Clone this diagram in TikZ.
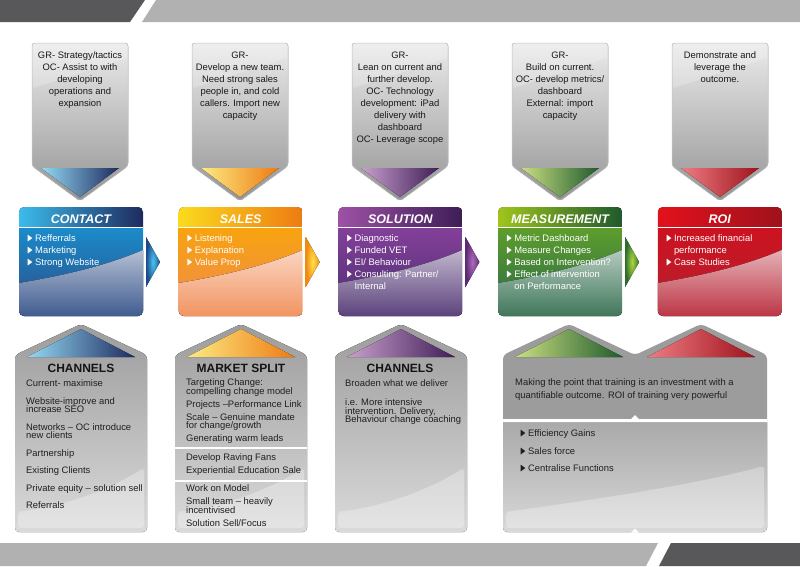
\documentclass[tikz,border=0pt]{standalone}
\usepackage{fontspec}
\setmainfont{Liberation Sans}
\usepackage{amssymb}
\usepackage{xcolor}

\definecolor{bandark}{HTML}{58585A}
\definecolor{banlight}{HTML}{B2B1B2}
\definecolor{topA}{HTML}{EAEAEA}
\definecolor{topB}{HTML}{949494}
\definecolor{lowA}{HTML}{9C9C9C}
\definecolor{lowB}{HTML}{DADADA}
\definecolor{lowC}{HTML}{A9A9A9}
\definecolor{contactHL}{HTML}{3BBCEC}
\definecolor{contactHR}{HTML}{1E2A5E}
\definecolor{contactBT}{HTML}{1B8CCB}
\definecolor{contactBB}{HTML}{2A4A84}
\definecolor{contactAI}{HTML}{48C6F2}
\definecolor{contactAO}{HTML}{1D4A8A}
\definecolor{salesHL}{HTML}{FBDA1E}
\definecolor{salesHR}{HTML}{EE7B12}
\definecolor{salesBT}{HTML}{F7A40E}
\definecolor{salesBB}{HTML}{F08850}
\definecolor{salesAI}{HTML}{FFE04A}
\definecolor{salesAO}{HTML}{F18A10}
\definecolor{solutionHL}{HTML}{9E52A6}
\definecolor{solutionHR}{HTML}{3E1D56}
\definecolor{solutionBT}{HTML}{84409A}
\definecolor{solutionBB}{HTML}{4A2E6E}
\definecolor{solutionAI}{HTML}{B06ABC}
\definecolor{solutionAO}{HTML}{5A2A72}
\definecolor{measureHL}{HTML}{9FC51C}
\definecolor{measureHR}{HTML}{1E5A2C}
\definecolor{measureBT}{HTML}{5E9E2C}
\definecolor{measureBB}{HTML}{2A6848}
\definecolor{measureAI}{HTML}{B0D840}
\definecolor{measureAO}{HTML}{2C6C2C}
\definecolor{roiHL}{HTML}{E3111C}
\definecolor{roiHR}{HTML}{9E121C}
\definecolor{roiBT}{HTML}{CC1220}
\definecolor{roiBB}{HTML}{B52030}

\newcommand{\bl}{\makebox[8pt][l]{\scalebox{.8}[1.25]{$\blacktriangleright$}}}

\begin{document}
\begin{tikzpicture}[x=1pt,y=-1pt, every node/.style={inner sep=0pt},
    topbox/.style={top color=topA, bottom color=topB, draw=black!22, line width=.5pt, rounded corners=3pt},
    lowbox/.style={top color=lowA, bottom color=lowB, rounded corners=4pt},
    toptext/.style={font=\fontsize{9.4}{12}\selectfont, text=black!90, align=center, anchor=north},
    boxtitle/.style={font=\fontsize{12.5}{14}\selectfont\bfseries\itshape, text=white, anchor=base},
    bultext/.style={font=\fontsize{9.4}{12}\selectfont, text=white, align=left, anchor=north west},
    lowtitle/.style={font=\fontsize{12}{14}\selectfont\bfseries, text=black!92, anchor=base},
    lowtext/.style={font={\fontsize{9.4}{8.5}\selectfont\lineskiplimit=-9pt}, text=black!88, align=left, anchor=north west}]
    \useasboundingbox (0,0) rectangle (800,566);
    \fill[white] (0,0) rectangle (800,566);
    % banners
    \fill[bandark] (0,0) -- (145,0) -- (130,22) -- (0,22) -- cycle;
    \fill[banlight] (156,0) -- (800,0) -- (800,22) -- (142,22) -- cycle;
    \fill[banlight] (0,543) -- (658,543) -- (646,566) -- (0,566) -- cycle;
    \fill[bandark] (671,543) -- (800,543) -- (800,566) -- (659,566) -- cycle;
    % top tags
    \foreach \i/\nm in {0/contact,1/sales,2/solution,3/measure,4/roi}{
        \pgfmathsetmacro{\cx}{80+160*\i}
        \filldraw[topbox] (\cx-48,43) -- (\cx+48,43) -- (\cx+48,166) -- (\cx,201) -- (\cx-48,166) -- cycle;
        \fill[white, fill opacity=.22] (\cx-47,44) -- (\cx+47,44) -- (\cx+47,58) -- (\cx-47,88) -- cycle;
        \fill[left color=\nm HL!55!white, right color=\nm HR] (\cx-39,168) -- (\cx+39,168) -- (\cx,197) -- cycle;
    }
    \node[toptext] (contact-top) at (80,51.5) {GR- Strategy/tactics\\OC- Assist to with\\developing\\operations and\\expansion};
    \node[toptext] (sales-top) at (240,51.5) {GR-\\Develop a new team.\\Need strong sales\\people in, and cold\\callers. Import new\\capacity};
    \node[toptext] (solution-top) at (400,51.5) {GR-\\Lean on current and\\further develop.\\OC- Technology\\development: iPad\\delivery with\\dashboard\\OC- Leverage scope};
    \node[toptext] (measure-top) at (560,51.5) {GR-\\Build on current.\\OC- develop metrics/\\dashboard\\External: import\\capacity};
    \node[toptext] (roi-top) at (720,51.5) {Demonstrate and\\leverage the\\outcome.};
    % coloured boxes
    \foreach \i/\nm/\ttl in {0/contact/CONTACT,1/sales/SALES,2/solution/SOLUTION,3/measure/MEASUREMENT,4/roi/ROI}{
        \pgfmathsetmacro{\cx}{81+159.7*\i}
        \begin{scope}
            \clip[rounded corners=5pt] (\cx-62,207) rectangle (\cx+62,316);
            \fill[top color=\nm BT, bottom color=\nm BB] (\cx-62,227) rectangle (\cx+62,316);
            \fill[top color=\nm BB!35!white, bottom color=\nm BB!90!white] (\cx-62,283) .. controls (\cx-20,276) and (\cx+25,266) .. (\cx+62,250) -- (\cx+62,316) -- (\cx-62,316) -- cycle;
            \fill[left color=\nm HL, right color=\nm HR] (\cx-62,207) rectangle (\cx+62,227);
        \end{scope}
        \draw[white, line width=.8pt] (\cx-62,227) -- (\cx+62,227);
        \node[boxtitle] (\nm-title) at (\cx,223.5) {\ttl};
    }
    \foreach \i/\nm in {0/contact,1/sales,2/solution,3/measure}{
        \pgfmathsetmacro{\ax}{146+159.7*\i}
        \fill[inner color=\nm AI, outer color=\nm AO] (\ax,237) -- (\ax+14,262) -- (\ax,287) -- cycle;
    }
    \node[bultext] (contact-list) at (27,234.5) {\bl Refferrals\\\bl Marketing\\\bl Strong Website};
    \node[bultext] (sales-list) at (186.7,234.5) {\bl Listening\\\bl Explanation\\\bl Value Prop};
    \node[bultext] (solution-list) at (346.4,234.5) {\bl Diagnostic\\\bl Funded VET\\\bl EI/ Behaviour\\\bl Consulting: Partner/\\\hspace*{8pt}Internal};
    \node[bultext] (measure-list) at (506.1,234.5) {\bl Metric Dashboard\\\bl Measure Changes\\\bl Based on Intervention?\\\bl Effect of intervention\\\hspace*{8pt}on Performance};
    \node[bultext] (roi-list) at (665.8,234.5) {\bl Increased financial\\\hspace*{8pt}performance\\\bl Case Studies};
    % lower houses
    \foreach \i/\nm in {0/contact,1/sales,2/solution}{
        \pgfmathsetmacro{\cx}{81+160*\i}
        \fill[lowbox] (\cx-66,355) -- (\cx,324) -- (\cx+66,355) -- (\cx+66,532) -- (\cx-66,532) -- cycle;
        \fill[white, fill opacity=.3, rounded corners=3pt] (\cx-63,512) .. controls (\cx-10,505) and (\cx+30,488) .. (\cx+63,468) -- (\cx+63,528) -- (\cx-63,528) -- cycle;
        \fill[left color=\nm HL!55!white, right color=\nm HR] (\cx-54,357) -- (\cx,329) -- (\cx+54,357) -- cycle;
    }
    \begin{scope}
        \clip[rounded corners=4pt] (503,355) -- (569,324) -- (635,355) -- (701,324) -- (767,355) -- (767,532) -- (503,532) -- cycle;
        \fill[lowA] (500,320) rectangle (770,422);
        \fill[top color=lowC, bottom color=lowB] (500,422) rectangle (770,535);
        \fill[white, fill opacity=.3, rounded corners=3pt] (506,512) .. controls (590,500) and (690,486) .. (764,466) -- (764,528) -- (506,528) -- cycle;
    \end{scope}
    \fill[white] (503,419) -- (631,419) -- (635,415) -- (639,419) -- (767,419) -- (767,422) -- (503,422) -- cycle;
    \fill[white] (631,532.5) -- (635,528.5) -- (639,532.5) -- cycle;
    \fill[left color=measureHL!55!white, right color=measureHR] (515,357) -- (569,329) -- (623,357) -- cycle;
    \fill[left color=roiHL!55!white, right color=roiHR] (647,357) -- (701,329) -- (755,357) -- cycle;
    \draw[white, line width=2.5pt] (175,448) -- (307,448) (175,481) -- (307,481);
    % lower texts
    \node[lowtitle] (contact-head) at (81,372.3) {CHANNELS};
    \node[lowtitle] (sales-head) at (241,372.3) {MARKET SPLIT};
    \node[lowtitle] (solution-head) at (400,372.3) {CHANNELS};
    \node[lowtext] (contact-low) at (26,379.6) {Current- maximise\\[9pt]Website-improve and\\increase SEO\\[9pt]Networks -- OC introduce\\new clients\\[9pt]Partnership\\[9pt]Existing Clients\\[9pt]Private equity -- solution sell\\[9pt]Referrals};
    \node[lowtext] (sales-low) at (186,378.6) {Targeting Change:\\compelling change model\\[4.5pt]Projects --Performance Link\\[4.5pt]Scale -- Genuine mandate\\for change/growth\\[4.5pt]Generating warm leads};
    \node[lowtext] (sales-low2) at (186,453.6) {Develop Raving Fans\\[4.5pt]Experiential Education Sale};
    \node[lowtext] (sales-low3) at (186,484.6) {Work on Model\\[4.5pt]Small team -- heavily\\incentivised\\[4.5pt]Solution Sell/Focus};
    \node[lowtext] (solution-low) at (345,379.6) {Broaden what we deliver\\[10.5pt]i.e. More intensive\\intervention. Delivery,\\Behaviour change coaching};
    \node[lowtext, font=\fontsize{9.4}{13}\selectfont] (roi-note) at (515,378.6) {Making the point that training is an investment with a\\quantifiable outcome. ROI of training very powerful};
    \node[lowtext, font=\fontsize{9.4}{17.5}\selectfont] (roi-low) at (520,429.6) {\bl Efficiency Gains\\\bl Sales force\\\bl Centralise Functions};
\end{tikzpicture}
\end{document}
